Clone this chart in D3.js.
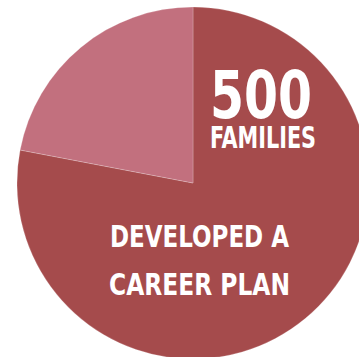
<!DOCTYPE html>
<html>
<head>
<meta charset="utf-8">
<script src="https://cdn.jsdelivr.net/npm/d3@7"></script>
<style>
  html, body { margin: 0; padding: 0; background: #ffffff; }
  svg { display: block; }
</style>
</head>
<body>
<svg id="chart" width="359" height="357"></svg>
<script>
// Share of families: developed a career plan vs. not
const categories = ["Developed a career plan", "Other"];
const shares = [78, 22];
const sliceColors = ["#a54b4c", "#c2707e"];

// Label lines drawn over the main slice
const headlineLines = ["500", "FAMILIES"];
const captionLines = ["DEVELOPED A", "CAREER PLAN"];

const width = 359, height = 357;
const cx = 193, cy = 183, radius = 176;

const svg = d3.select("#chart");
const g = svg.append("g").attr("transform", `translate(${cx},${cy})`);

const pie = d3.pie().sort(null).value(d => d);
const arc = d3.arc().innerRadius(0).outerRadius(radius);
const color = d3.scaleOrdinal().domain(categories).range(sliceColors);

g.selectAll("path.slice")
  .data(pie(shares))
  .join("path")
  .attr("class", "slice")
  .attr("d", arc)
  .attr("fill", (d, i) => color(categories[i]))
  .attr("stroke", "rgba(255,255,255,0.35)")
  .attr("stroke-width", 0.6);

const fontFamily = "'Liberation Sans Narrow', 'DejaVu Sans Condensed', 'Roboto', sans-serif";

const labels = [
  { text: headlineLines[0], x: 261, y: 118, size: 66, len: 102 },
  { text: headlineLines[1], x: 263, y: 148, size: 30, len: 106 },
  { text: captionLines[0], x: 199.5, y: 247, size: 31, len: 179 },
  { text: captionLines[1], x: 199.5, y: 295, size: 31, len: 181 }
];

svg.selectAll("text.label")
  .data(labels)
  .join("text")
  .attr("class", "label")
  .attr("x", d => d.x)
  .attr("y", d => d.y)
  .attr("text-anchor", "middle")
  .attr("font-family", fontFamily)
  .attr("font-weight", "bold")
  .attr("font-size", d => d.size)
  .attr("fill", "#ffffff")
  .attr("textLength", d => d.len)
  .attr("lengthAdjust", "spacingAndGlyphs")
  .text(d => d.text);
</script>
</body>
</html>
